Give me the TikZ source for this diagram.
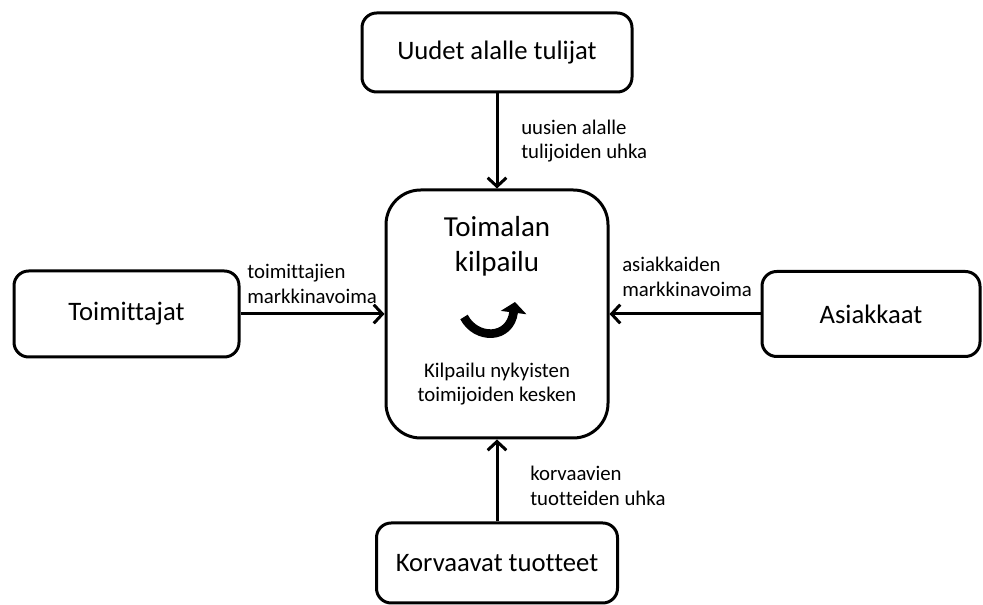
\documentclass[tikz,border=0pt]{standalone}
\usepackage{fontspec}
\setmainfont[Ligatures=NoCommon]{Carlito}
\usetikzlibrary{arrows.meta}
\tikzset{
  box/.style={draw, line width=2.25pt, rounded corners=11pt, align=center,
    font=\fontsize{20}{24}\selectfont},
  hub/.style={draw, line width=2.25pt, rounded corners=26pt,
    minimum width=166.5pt, minimum height=186pt},
  note/.style={anchor=west, align=left, inner sep=0pt,
    font=\fontsize{15.6}{18.5}\selectfont},
  flow/.style={line width=2.25pt, -{Straight Barb[length=6.5pt,width=14pt]}}
}
\begin{document}
\begin{tikzpicture}[x=0.75pt, y=-0.75pt]
  \useasboundingbox (0,0) rectangle (983,605);
  \draw
    (497,314) node[hub] (rivalry){}
    (497,52.5) node[box, minimum width=202.5pt, minimum height=59.25pt] (entrants){Uudet alalle tulijat}
    (126.5,314) node[box, minimum width=168.75pt, minimum height=64.5pt] (suppliers){Toimittajat}
    (871,314) node[box, minimum width=163.5pt, minimum height=63.75pt] (buyers){Asiakkaat}
    (497,563) node[box, minimum width=180.75pt, minimum height=60pt] (substitutes){Korvaavat tuotteet};
  \node[align=center, font=\fontsize{21.75}{26.25}\selectfont] (title) at (497,246) {Toimalan\\kilpailu};
  \node[align=center, font=\fontsize{15.6}{18}\selectfont] (caption) at (497,384) {Kilpailu nykyisten\\toimijoiden kesken};
  \draw[line width=6.5pt, -{Triangle[length=8pt,width=19pt]}]
    (464,317) .. controls (476,340) and (510,340) .. (515,302);
  \begin{scope}[flow]
    \draw (entrants) -- (rivalry);
    \draw (suppliers) -- (rivalry);
    \draw (buyers) -- (rivalry);
    \draw (substitutes) -- (rivalry);
  \end{scope}
  \node[note] (entrantsthreat) at (521,141) {uusien alalle\\tulijoiden uhka};
  \node[note] (supplierspower) at (247,284) {toimittajien\\markkinavoima};
  \node[note] (buyerspower) at (622,277) {asiakkaiden\\markkinavoima};
  \node[note] (substitutesthreat) at (530,486) {korvaavien\\tuotteiden uhka};
\end{tikzpicture}
\end{document}
